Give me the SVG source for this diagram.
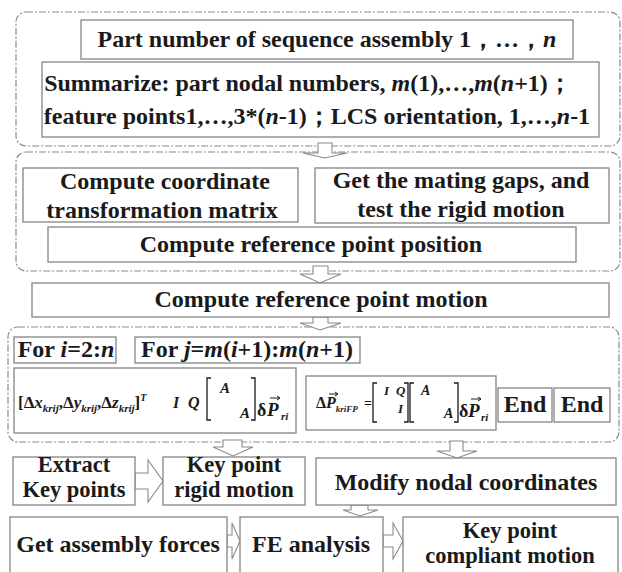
<svg xmlns="http://www.w3.org/2000/svg" width="622" height="572" viewBox="0 0 622 572">
<style>
.grp{fill:none;stroke:#8a8a8a;stroke-width:1.2;stroke-dasharray:7 2 2 2}
.box{fill:#fff;stroke:#858585;stroke-width:1.3}
.t{font-family:'Liberation Serif','Times New Roman',serif;font-weight:bold;font-size:24px;fill:#1a1a1a;text-anchor:middle}
.s{font-size:22.5px}
.f{font-family:'Liberation Serif','Times New Roman',serif;font-weight:bold;fill:#1a1a1a}
.i{font-style:italic}
.arr{fill:#fff;stroke:#8a8a8a;stroke-width:1.1;stroke-linejoin:miter}
.br{fill:none;stroke:#1a1a1a;stroke-width:1.3}
.vec{fill:none;stroke:#1a1a1a;stroke-width:1}
</style>
<rect width="622" height="572" fill="#fff"/>

<g id="group1"><rect class="grp" x="16" y="12" width="604" height="134" rx="10"/></g>
<g id="group2"><rect class="grp" x="16" y="152" width="604" height="119" rx="10"/></g>
<g id="group3"><rect class="grp" x="8" y="327" width="611" height="115" rx="10"/></g>

<g id="connectors">
<polygon class="arr" points="318,143 318,153 303,153 325,158 347,153 332,153 332,143"/>
<polygon class="arr" points="313,266 313,274 300,274 320,283 341,274 328,274 328,266"/>
<polygon class="arr" points="313,317 313,323 300,323 320,330 341,323 328,323 328,317"/>
<polygon class="arr" points="223,440 223,447 213,447 233,456 253,447 242,447 242,440"/>
<polygon class="arr" points="450,441 450,451 437,451 457,458 477,451 463,451 463,441"/>
<polygon class="arr" points="135,473 148,473 148,460 163,481 148,502 148,489 135,489"/>
<polygon class="arr" points="351,505 351,510 343,510 360,516 378,510 368,510 368,505"/>
<polygon class="arr" points="227,535 232,535 232,523 240,541 232,559 232,547 227,547"/>
<polygon class="arr" points="383,535 393,535 393,523 403,541 393,559 393,547 383,547"/>
</g>

<g id="part-number">
<rect class="box" x="81" y="20" width="492" height="39"/>
<text class="t" x="327" y="47">Part number of sequence assembly 1，…，<tspan class="i">n</tspan></text>
</g>

<g id="summarize">
<rect class="box" x="42" y="62" width="557" height="75"/>
<text class="t" x="308" y="91">Summarize: part nodal numbers, <tspan class="i">m</tspan>(1),…,<tspan class="i">m</tspan>(<tspan class="i">n</tspan>+1)；</text>
<text class="t" x="317" y="124">feature points1,…,3*(<tspan class="i">n</tspan>-1)；LCS orientation, 1,…,<tspan class="i">n</tspan>-1</text>
</g>

<g id="coord-matrix">
<rect class="box" x="23" y="168" width="275" height="54"/>
<text class="t" x="165" y="189">Compute coordinate</text>
<text class="t" x="162" y="218">transformation matrix</text>
</g>

<g id="mating-gaps">
<rect class="box" x="315" y="168" width="294" height="55"/>
<text class="t" x="461" y="188">Get the mating gaps, and</text>
<text class="t" x="461" y="217">test the rigid motion</text>
</g>

<g id="ref-position">
<rect class="box" x="48" y="227" width="528" height="35"/>
<text class="t" x="311" y="252">Compute reference point position</text>
</g>

<g id="ref-motion">
<rect class="box" x="32" y="283" width="577" height="34"/>
<text class="t" x="321" y="307">Compute reference point motion</text>
</g>

<g id="for-i">
<rect class="box" x="14" y="337" width="102" height="26"/>
<text class="t" x="66" y="357">For <tspan class="i">i</tspan>=2:<tspan class="i">n</tspan></text>
</g>

<g id="for-j">
<rect class="box" x="135" y="337" width="225" height="26"/>
<text class="t" x="247" y="357">For <tspan class="i">j</tspan>=<tspan class="i">m</tspan>(<tspan class="i">i</tspan>+1):<tspan class="i">m</tspan>(<tspan class="i">n</tspan>+1)</text>
</g>

<g id="formula1">
<rect class="box" x="14" y="368" width="282" height="65"/>
<text class="f" x="18" y="408" font-size="17">[Δ<tspan class="i">x</tspan><tspan class="i" font-size="11" dy="4">krij</tspan><tspan dy="-4">,Δ</tspan><tspan class="i">y</tspan><tspan class="i" font-size="11" dy="4">krij</tspan><tspan dy="-4">,Δ</tspan><tspan class="i">z</tspan><tspan class="i" font-size="11" dy="4">krij</tspan><tspan dy="-4">]</tspan><tspan class="i" font-size="10" dy="-7">T</tspan></text>
<text class="f i" x="173" y="408" font-size="16">I</text>
<text class="f i" x="188" y="408" font-size="16">Q</text>
<path class="br" d="M211,378 H207 V420 H211 M251,378 H255 V420 H251"/>
<text class="f i" x="220" y="393" font-size="15">A</text>
<text class="f i" x="240" y="418" font-size="15">A</text>
<text class="f" x="257" y="416" font-size="18">δ</text>
<text class="f i" x="267" y="416" font-size="19">P</text>
<path class="vec" d="M270,398 H280 M277,396 L280,398 L277,400"/>
<text class="f i" x="281" y="420" font-size="11">ri</text>
</g>

<g id="formula2">
<rect class="box" x="306" y="376" width="190" height="54"/>
<text class="f" x="316" y="408" font-size="16">Δ<tspan class="i">P</tspan><tspan class="i" font-size="9" dy="4">kriFP</tspan></text>
<path class="vec" d="M329,394 H338 M335,392 L338,394 L335,396"/>
<text class="f" x="364" y="408" font-size="14">=</text>
<path class="br" d="M377,383 H373 V422 H377 M404,383 H408 V422 H404 M414,383 H410 V422 H414 M454,383 H458 V422 H454"/>
<text class="f i" x="384" y="395" font-size="13">I</text>
<text class="f i" x="396" y="395" font-size="13">Q</text>
<text class="f i" x="398" y="413" font-size="13">I</text>
<text class="f i" x="421" y="395" font-size="14">A</text>
<text class="f i" x="444" y="418" font-size="14">A</text>
<text class="f" x="459" y="417" font-size="18">δ</text>
<text class="f i" x="468" y="417" font-size="19">P</text>
<path class="vec" d="M471,399 H481 M478,397 L481,399 L478,401"/>
<text class="f i" x="481" y="421" font-size="11">ri</text>
</g>

<g id="end1">
<rect class="box" x="498" y="388" width="54" height="34"/>
<text class="t" x="525" y="412">End</text>
</g>
<g id="end2">
<rect class="box" x="554" y="388" width="56" height="34"/>
<text class="t" x="582" y="412">End</text>
</g>

<g id="extract">
<rect class="box" x="13" y="457" width="122" height="48"/>
<text class="t s" x="74" y="472">Extract</text>
<text class="t s" x="74" y="497">Key points</text>
</g>

<g id="rigid-motion">
<rect class="box" x="163" y="457" width="142" height="48"/>
<text class="t s" x="234" y="472">Key point</text>
<text class="t s" x="234" y="497">rigid motion</text>
</g>

<g id="modify">
<rect class="box" x="316" y="458" width="300" height="47"/>
<text class="t" x="466" y="490">Modify nodal coordinates</text>
</g>

<g id="assembly-forces">
<rect class="box" x="10" y="517" width="217" height="62"/>
<text class="t" x="118" y="552">Get assembly forces</text>
</g>

<g id="fe">
<rect class="box" x="240" y="517" width="143" height="62"/>
<text class="t" x="311" y="552">FE analysis</text>
</g>

<g id="compliant">
<rect class="box" x="403" y="517" width="215" height="62"/>
<text class="t s" x="510" y="538">Key point</text>
<text class="t s" x="510" y="563">compliant motion</text>
</g>
</svg>
